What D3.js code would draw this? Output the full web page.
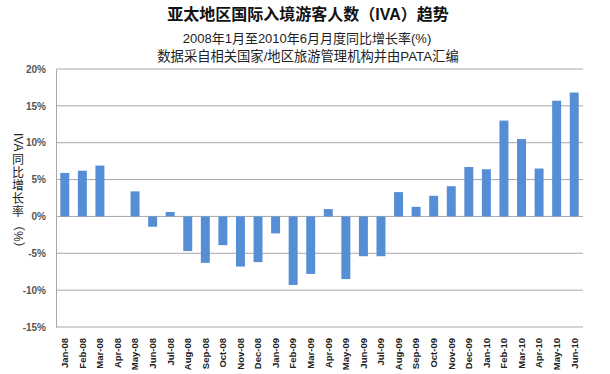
<!DOCTYPE html>
<html>
<head>
<meta charset="utf-8">
<script src="https://cdn.jsdelivr.net/npm/d3@7"></script>
<style>
  body { margin: 0; background: #fff; }
  text { font-family: "Liberation Sans", "Noto Sans CJK SC", sans-serif; }
</style>
</head>
<body>
<div id="chart"></div>
<script>
var months = ["Jan-08", "Feb-08", "Mar-08", "Apr-08", "May-08", "Jun-08", "Jul-08", "Aug-08",
    "Sep-08", "Oct-08", "Nov-08", "Dec-08", "Jan-09", "Feb-09", "Mar-09", "Apr-09",
    "May-09", "Jun-09", "Jul-09", "Aug-09", "Sep-09", "Oct-09", "Nov-09", "Dec-09",
    "Jan-10", "Feb-10", "Mar-10", "Apr-10", "May-10", "Jun-10"];
var growth = [5.9, 6.2, 6.9, 0, 3.4, -1.4, 0.6, -4.7, -6.3, -3.9, -6.8, -6.2, -2.3, -9.3, -7.8, 1.0,
    -8.5, -5.4, -5.4, 3.3, 1.3, 2.8, 4.1, 6.7, 6.4, 13.0, 10.5, 6.5, 15.7, 16.8];
var yTicks = [-15, -10, -5, 0, 5, 10, 15, 20];

var data = months.map(function (m, i) { return { month: m, value: growth[i] }; });

var W = 610, H = 374;
var margin = { top: 69, right: 27, bottom: 47, left: 56 };
var width = W - margin.left - margin.right;
var height = H - margin.top - margin.bottom;

var svg = d3.select("#chart").append("svg")
    .attr("width", W)
    .attr("height", H);

// titles
svg.append("text")
    .attr("x", 308).attr("y", 20)
    .attr("text-anchor", "middle")
    .style("font-size", "16px").style("font-weight", "bold").attr("fill", "#111")
    .text("亚太地区国际入境游客人数（IVA）趋势");
svg.append("text")
    .attr("x", 307).attr("y", 43)
    .attr("text-anchor", "middle")
    .style("font-size", "13px").attr("fill", "#222")
    .text("2008年1月至2010年6月月度同比增长率(%)");
svg.append("text")
    .attr("x", 308).attr("y", 61)
    .attr("text-anchor", "middle")
    .style("font-size", "13.3px").attr("fill", "#222")
    .text("数据采自相关国家/地区旅游管理机构并由PATA汇编");

var g = svg.append("g")
    .attr("transform", "translate(" + margin.left + "," + margin.top + ")");

var x = d3.scaleBand().domain(months).range([0, width]).paddingInner(0.49).paddingOuter(0.245);
var y = d3.scaleLinear().domain([-15, 20]).range([height, 0]);

// gridlines
g.selectAll(".grid")
    .data(yTicks)
    .enter().append("line")
    .attr("x1", 0).attr("x2", width)
    .attr("y1", function (d) { return y(d); })
    .attr("y2", function (d) { return y(d); })
    .attr("stroke", "#a8a8a8")
    .attr("stroke-width", 1);

// y axis
var yAxis = g.append("g")
    .call(d3.axisLeft(y).tickValues(yTicks).tickSize(0).tickPadding(10)
        .tickFormat(function (d) { return d + "%"; }));
yAxis.select(".domain").attr("stroke", "#a8a8a8");
yAxis.selectAll("text")
    .style("font-size", "10px").style("font-weight", "bold").attr("fill", "#555");

// bars
g.selectAll(".bar")
    .data(data)
    .enter().append("rect")
    .attr("x", function (d) { return x(d.month); })
    .attr("width", x.bandwidth())
    .attr("y", function (d) { return y(Math.max(0, d.value)); })
    .attr("height", function (d) { return Math.abs(y(d.value) - y(0)); })
    .attr("fill", "#558ed5");

// x axis labels
var xAxis = g.append("g")
    .attr("transform", "translate(0," + height + ")")
    .call(d3.axisBottom(x).tickSize(0).tickPadding(0));
xAxis.select(".domain").remove();
xAxis.selectAll("text")
    .attr("transform", "rotate(-90)")
    .attr("x", -11).attr("y", 0).attr("dy", "0.35em")
    .style("text-anchor", "end")
    .style("font-size", "9.5px").style("font-weight", "bold").attr("fill", "#222");

// y axis title: latin parts turned, CJK characters stacked upright
var tx = 18, ty = 133;
var yt = svg.append("g").attr("fill", "#222").style("font-size", "12px");
yt.append("text")
    .attr("transform", "translate(" + tx + "," + ty + ") rotate(90)")
    .attr("dy", "0.35em")
    .text("IVA");
ty += 20;
["同", "比", "增", "长", "率"].forEach(function (c) {
    yt.append("text")
        .attr("x", tx).attr("y", ty + 10.5)
        .attr("text-anchor", "middle")
        .text(c);
    ty += 13;
});
yt.append("text")
    .attr("transform", "translate(" + tx + "," + (ty + 1) + ") rotate(90)")
    .attr("dy", "0.35em")
    .text("（%）");
</script>
</body>
</html>
